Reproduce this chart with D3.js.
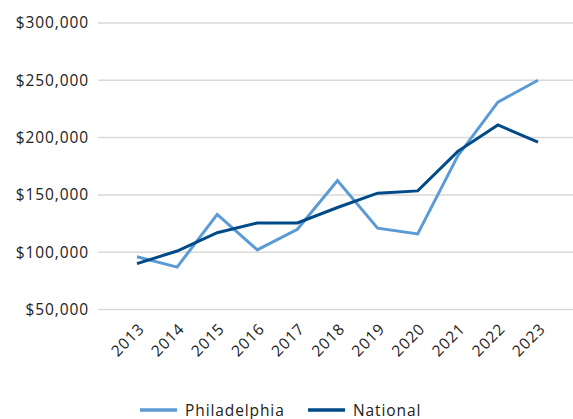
<!DOCTYPE html>
<html><head><meta charset="utf-8">
<script src="https://cdn.jsdelivr.net/npm/d3@7"></script>
<style>
html,body{margin:0;padding:0;background:#fff;}
text{font-family:"Open Sans",sans-serif;fill:#222;}
</style></head>
<body><svg id="c" width="573" height="419"></svg>
<script>
const years = ["2013","2014","2015","2016","2017","2018","2019","2020","2021","2022","2023"];
const philadelphia = [96000, 87000, 133000, 102000, 120000, 162500, 121000, 116000, 184000, 231000, 250000];
const national = [90000, 101000, 117000, 125500, 125500, 139000, 151500, 153500, 188000, 211000, 196000];
const yTicks = [50000, 100000, 150000, 200000, 250000, 300000];
const seriesNames = ["Philadelphia", "National"];
const colors = ["#5B9BD5", "#004A87"];
const FONT = "'Open Sans', sans-serif";

const svg = d3.select("#c");
const x = d3.scalePoint().domain(years).range([137, 538]);
const y = d3.scaleLinear().domain([50000, 300000]).range([309.5, 23]);
const fmt = v => "$" + d3.format(",")(v);

// gridlines
svg.append("g").selectAll("line").data(yTicks).join("line")
  .attr("x1", 98).attr("x2", 573)
  .attr("y1", d => y(d)).attr("y2", d => y(d))
  .attr("stroke", "#d9d9d9").attr("stroke-width", 1.5);

// y axis labels
const yAxis = d3.axisLeft(y).tickValues(yTicks).tickFormat(fmt).tickSize(0).tickPadding(0);
const ga = svg.append("g").attr("transform", "translate(89,0)").call(yAxis);
ga.select(".domain").remove();
ga.selectAll("text").attr("font-size", 15.5).attr("font-family", FONT).attr("fill", "#222").attr("letter-spacing", "0.9px");

// x axis labels
const xAxis = d3.axisBottom(x).tickSize(0).tickPadding(0);
const gx = svg.append("g").attr("transform", "translate(0,322)").call(xAxis);
gx.select(".domain").remove();
gx.selectAll("text").attr("font-size", 15.5).attr("font-family", FONT).attr("fill", "#222")
  .attr("letter-spacing", "0.9px")
  .attr("text-anchor", "end").attr("dy", "0.71em")
  .attr("transform", "translate(0,0) rotate(-45)");

// lines
const line = d3.line().x((d, i) => x(years[i])).y(d => y(d));
[philadelphia, national].forEach((s, k) => {
  svg.append("path").datum(s).attr("d", line)
    .attr("fill", "none").attr("stroke", colors[k]).attr("stroke-width", 3)
    .attr("stroke-linejoin", "miter");
});

// legend
const legX = [140, 308];
seriesNames.forEach((n, k) => {
  const g = svg.append("g").attr("transform", `translate(${legX[k]},410)`);
  g.append("line").attr("x1", 0).attr("x2", 37).attr("stroke", colors[k]).attr("stroke-width", 3.5);
  g.append("text").attr("x", 45).attr("y", 5.5).attr("font-size", 15.5).attr("font-family", FONT).attr("letter-spacing", "0.9px").text(n);
});
</script></body></html>
